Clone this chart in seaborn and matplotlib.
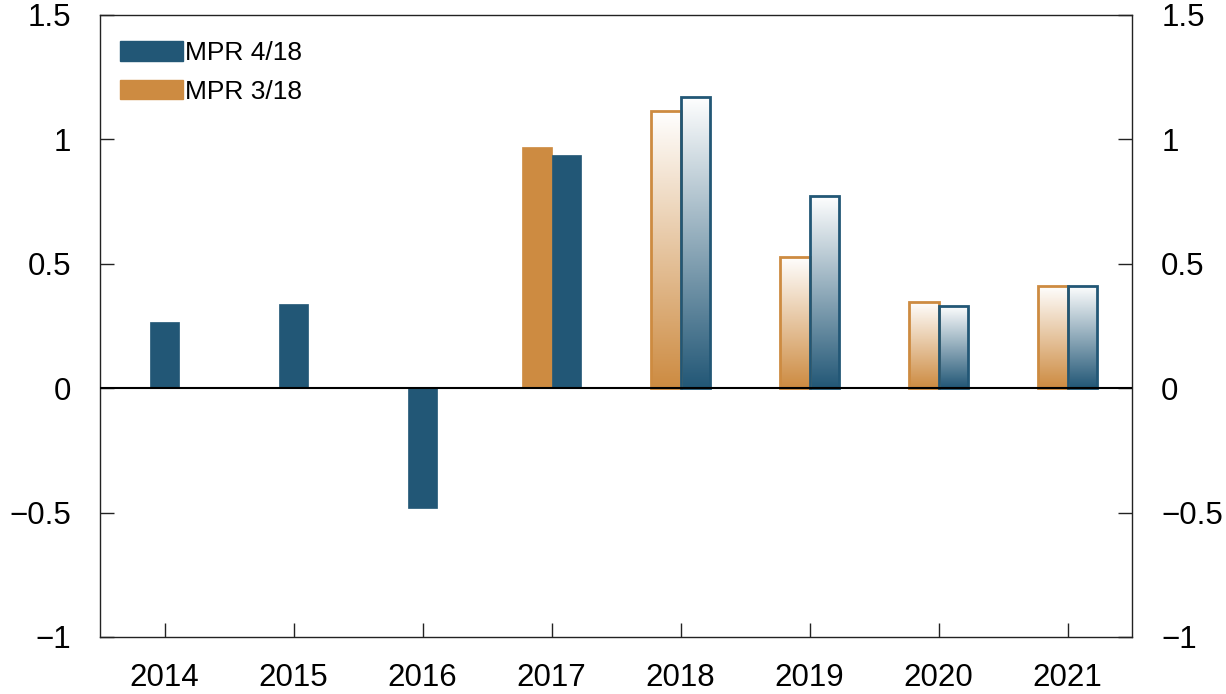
import numpy as np
import pandas as pd
import matplotlib.pyplot as plt
import seaborn as sns
from matplotlib.colors import LinearSegmentedColormap, to_rgba
from matplotlib.patches import Patch

# values
years = ['2014', '2015', '2016', '2017', '2018', '2019', '2020', '2021']
mpr_418 = [0.265, 0.338, -0.482, 0.937, 1.170, 0.772, 0.330, 0.410]
mpr_318 = [np.nan, np.nan, np.nan, 0.969, 1.113, 0.527, 0.346, 0.410]
projected = ['2018', '2019', '2020', '2021']
yticks = [-1, -0.5, 0, 0.5, 1, 1.5]
ytick_labels = ['\u22121', '\u22120.5', '0', '0.5', '1', '1.5']

blue = '#225776'
orange = '#cd8b41'

df = pd.DataFrame({
    'year': years * 2,
    'value': mpr_318 + mpr_418,
    'series': ['MPR 3/18'] * len(years) + ['MPR 4/18'] * len(years),
}).dropna()

sns.set_style('white')
plt.rcParams['font.family'] = ['Liberation Sans', 'DejaVu Sans']
plt.rcParams['text.color'] = 'black'

fig, ax = plt.subplots(figsize=(12.26, 6.94), dpi=100)
fig.subplots_adjust(left=100 / 1226, right=1132 / 1226, bottom=1 - 637 / 694, top=1 - 15 / 694)

sns.barplot(data=df, x='year', y='value', hue='series', order=years,
            hue_order=['MPR 3/18', 'MPR 4/18'], palette=[orange, blue],
            width=0.46, saturation=1, errorbar=None, legend=False, ax=ax)

counts = df.groupby('year').size()
for patch in list(ax.patches):
    w = patch.get_width()
    idx = int(round(patch.get_x() + w / 2))
    year = years[idx]
    color = patch.get_facecolor()
    patch.set_edgecolor(color)
    patch.set_linewidth(0.5)
    if counts[year] == 1:
        patch.set_x(idx - w / 2)
    if year in projected:
        x0 = patch.get_x()
        h = patch.get_height()
        patch.set_facecolor('none')
        patch.set_linewidth(2)
        patch.set_zorder(2)
        cmap = LinearSegmentedColormap.from_list('g', ['white', to_rgba(color)])
        im = ax.imshow(np.linspace(0, 1, 256).reshape(-1, 1), cmap=cmap,
                       extent=[x0, x0 + w, 0, h], origin='upper',
                       aspect='auto', zorder=1.5)
        im.set_clip_path(patch)

ax.axhline(0, color='black', lw=1.5, zorder=3)

ax.set_xlim(-0.5, len(years) - 0.5)
ax.set_ylim(-1, 1.5)
ax.set_yticks(yticks)
ax.set_yticklabels(ytick_labels)
ax.set_xlabel('')
ax.set_ylabel('')

for s in ax.spines.values():
    s.set_visible(True)
    s.set_color('#222222')
    s.set_linewidth(1)

ax.tick_params(axis='x', direction='in', length=10, width=1, color='#222222',
               labelcolor='black', labelsize=22.5, pad=18.5, top=False, bottom=True)
ax.tick_params(axis='y', direction='in', length=10, width=1, color='#222222',
               labelcolor='black', labelsize=22.5, pad=21, left=True, right=True,
               labelleft=True, labelright=True)

handles = [Patch(facecolor=blue, edgecolor=blue), Patch(facecolor=orange, edgecolor=orange)]
ax.legend(handles, ['MPR 4/18', 'MPR 3/18'], loc='upper left', frameon=False,
          fontsize=19, handlelength=2.4, handleheight=0.75, handletextpad=0.05,
          labelspacing=0.55, borderaxespad=0, borderpad=0.4,
          bbox_to_anchor=(0.0092, 0.975))

plt.savefig('out.png', dpi=100)
